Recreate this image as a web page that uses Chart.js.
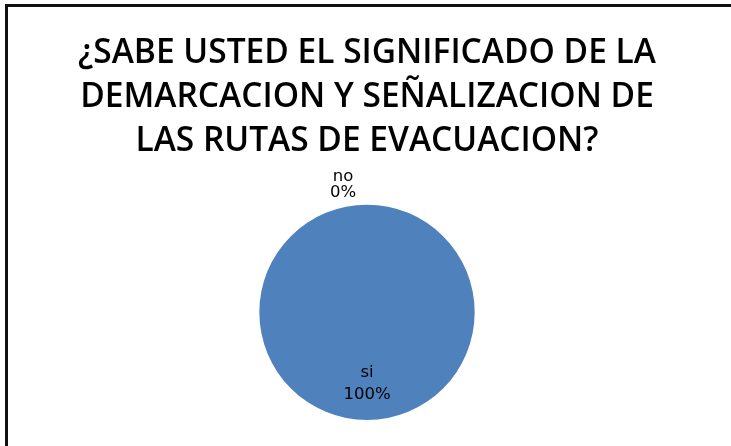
<!DOCTYPE html>
<html>
<head>
<meta charset="utf-8">
<script src="https://cdn.jsdelivr.net/npm/chart.js@4.4.0/dist/chart.umd.min.js"></script>
<style>
  html, body { margin: 0; padding: 0; background: #fff; overflow: hidden; }
  #wrap { position: relative; width: 731px; height: 446px; }
  #frame { position: absolute; left: 5px; top: 4px; width: 800px; height: 500px;
           border-left: 3px solid #111; border-top: 3px solid #111; box-sizing: border-box; pointer-events: none; }
  canvas { position: absolute; left: 0; top: 0; }
</style>
</head>
<body>
<div id="wrap">
  <canvas id="c" width="731" height="446"></canvas>
  <div id="frame"></div>
</div>
<script>
const titleLines = ["¿SABE USTED EL SIGNIFICADO DE LA", "DEMARCACION Y SEÑALIZACION DE", "LAS RUTAS DE EVACUACION?"];
const categories = ["si", "no"];
const values = [100, 0];
const percentLabels = ["100%", "0%"];
const sliceColors = ["#4F81BD", "#C0504D"];

const labelPlugin = {
  id: 'sliceLabels',
  afterDatasetsDraw(chart) {
    const ctx = chart.ctx;
    const meta = chart.getDatasetMeta(0);
    ctx.save();
    ctx.font = '16.5px "DejaVu Sans"';
    ctx.fillStyle = '#000';
    ctx.textAlign = 'center';
    ctx.textBaseline = 'middle';
    meta.data.forEach((arc, i) => {
      const p = arc.getProps(['x', 'y', 'startAngle', 'endAngle', 'outerRadius'], true);
      const mid = (p.startAngle + p.endAngle) / 2;
      const isEmpty = values[i] === 0;
      let cx, cy, gap;
      if (isEmpty) {
        const rr = p.outerRadius + 20;
        cx = p.x + Math.cos(mid) * rr - 24;
        cy = p.y + Math.sin(mid) * rr;
        gap = 8;
      } else {
        const rr = p.outerRadius * 0.66;
        cx = p.x + Math.cos(mid) * rr;
        cy = p.y + Math.sin(mid) * rr;
        gap = 11;
      }
      ctx.fillText(categories[i], cx, cy - gap);
      ctx.fillText(percentLabels[i], cx, cy + gap);
    });
    ctx.restore();
  }
};

new Chart(document.getElementById('c'), {
  type: 'pie',
  data: {
    labels: categories,
    datasets: [{
      data: values,
      backgroundColor: sliceColors,
      borderWidth: 0
    }]
  },
  options: {
    responsive: false,
    animation: false,
    layout: { padding: { top: 0, bottom: 26, left: 3, right: 0 } },
    plugins: {
      legend: { display: false },
      tooltip: { enabled: false },
      title: {
        display: true,
        text: titleLines,
        color: '#000',
        font: { family: '"Open Sans"', size: 33.5, weight: '600', lineHeight: 1.31 },
        padding: { top: 32, bottom: 41 }
      }
    }
  },
  plugins: [labelPlugin]
});
</script>
</body>
</html>
